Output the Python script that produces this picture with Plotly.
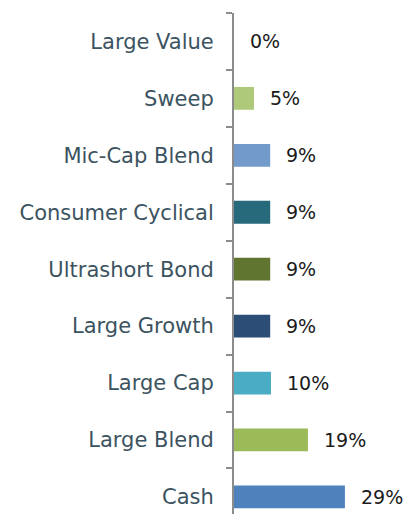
import plotly.graph_objects as go

categories = ["Cash", "Large Blend", "Large Cap", "Large Growth", "Ultrashort Bond",
              "Consumer Cyclical", "Mic-Cap Blend", "Sweep", "Large Value"]
values = [28.8, 19.2, 9.6, 9.4, 9.4, 9.4, 9.4, 5.2, 0.0]
labels = ["29%", "19%", "10%", "9%", "9%", "9%", "9%", "5%", "0%"]
colors = ["#4f81bd", "#9bbb59", "#4bacc6", "#2c4d75", "#5f7530",
          "#276a7c", "#729aca", "#afc97a", "#ffffff"]

FONT = "Century Gothic, DejaVu Sans, sans-serif"

fig = go.Figure()
fig.add_trace(go.Bar(
    y=categories, x=values, orientation="h",
    marker=dict(color=colors, line=dict(width=0)),
    width=0.4, hoverinfo="skip",
))
for c, v, t in zip(categories, values, labels):
    fig.add_annotation(x=v, y=c, text=t, showarrow=False, xanchor="left",
                       xshift=14, font=dict(family=FONT, size=19, color="#1a1a1a"))

fig.update_layout(
    width=415, height=514,
    margin=dict(l=234, r=0, t=13, b=0),
    plot_bgcolor="white", paper_bgcolor="white",
    showlegend=False,
    xaxis=dict(range=[0, 47], visible=False, fixedrange=True),
    yaxis=dict(
        type="category", categoryorder="array", categoryarray=categories,
        range=[-0.3, 8.5],
        showline=True, linecolor="#8c8c8c", linewidth=2,
        ticks="outside", tickson="boundaries", ticklen=6, tickwidth=2,
        tickcolor="#8c8c8c", showgrid=False,
        tickfont=dict(family=FONT, size=21, color="#3b5360"),
        ticklabelstandoff=14,
    ),
)
fig.write_html("out.html")
